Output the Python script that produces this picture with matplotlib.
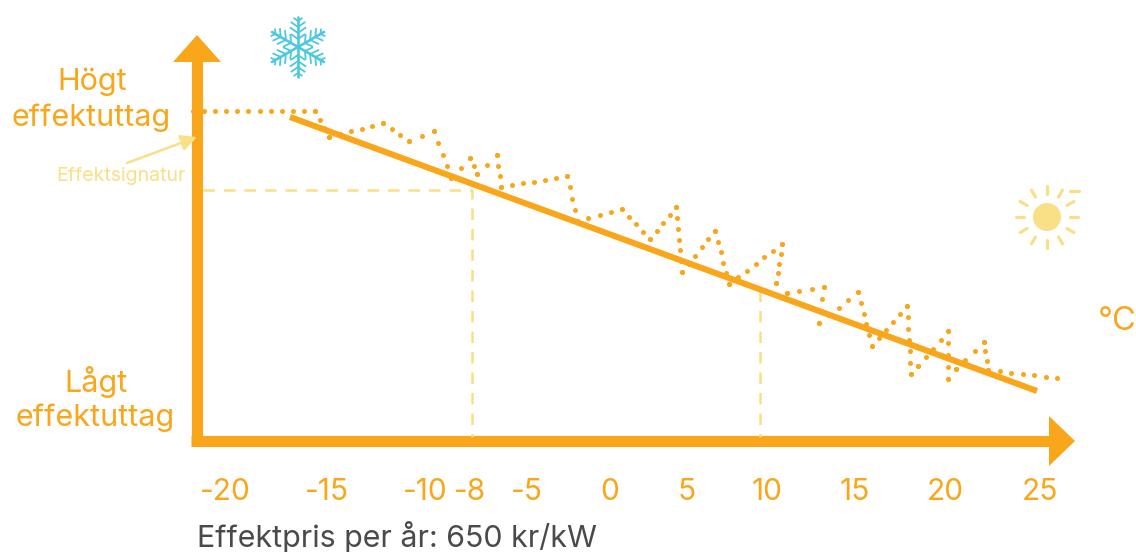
import numpy as np
import matplotlib
matplotlib.use("Agg")
import matplotlib.pyplot as plt
from matplotlib.patches import Polygon, Circle

plt.rcParams['font.family'] = ['Inter', 'DejaVu Sans']

# Chart coordinates (hand-drawn infographic with a non-uniform temperature scale)
tick_labels = ['-20', '-15', '-10', '-8', '-5', '0', '5', '10', '15', '20', '25']
tick_pos = [225, 327, 425, 470, 527, 610, 687, 767, 855, 945, 1040]

sig_x = [193, 315, 329, 340, 383, 409, 434, 451, 470, 477, 497, 501, 567, 577, 622, 650, 676,
         682, 715, 729, 782, 776, 787, 824, 819, 858, 872, 907, 911, 918, 948, 948, 956, 984, 988, 1057]
sig_y = [111, 111, 137, 134, 123, 141, 131, 178, 158, 174, 155, 187, 176, 221, 209, 239, 207,
         272, 231, 284, 244, 283, 293, 287, 323, 292, 346, 306, 374, 366, 331, 379, 369, 342, 370, 378]

trend_x = [290, 1037]
trend_y = [117, 391]

guide_a_x = [203, 472, 472]
guide_a_y = [190, 190, 437]
guide_b_x = [760, 760]
guide_b_y = [290, 437]

ORANGE = '#FAA61A'
PALE = '#F9DF85'
BLUE = '#4DC8E0'
DARK = '#4A4A4A'

fig = plt.figure(figsize=(11.36, 5.52), dpi=100)
ax = fig.add_axes([0, 0, 1, 1])
ax.set_xlim(0, 1136)
ax.set_ylim(552, 0)
ax.axis('off')

# Dotted signature: the dots of each stretch are spaced evenly between its two vertices
PITCH = 11.2
for x0, x1, y0, y1 in zip(sig_x[:-1], sig_x[1:], sig_y[:-1], sig_y[1:]):
    n = max(1, round(np.hypot(x1 - x0, y1 - y0) / PITCH))
    ax.plot(np.linspace(x0, x1, n + 1), np.linspace(y0, y1, n + 1), linestyle='none',
            marker='o', color=ORANGE, ms=3.6, mew=0)

# Axes with arrow heads
ax.plot([197, 197], [60, 446], color=ORANGE, lw=8, solid_capstyle='butt')
ax.plot([191, 1052], [441, 441], color=ORANGE, lw=8, solid_capstyle='butt')
ax.add_patch(Polygon([[173, 62], [197, 35], [221, 62]], closed=True, color=ORANGE, lw=0))
ax.add_patch(Polygon([[1049, 416], [1075, 441], [1049, 466]], closed=True, color=ORANGE, lw=0))

# Guides
ax.plot(guide_a_x, guide_a_y, color=PALE, lw=1.8, linestyle=(0, (4.6, 3.6)))
ax.plot(guide_b_x, guide_b_y, color=PALE, lw=1.8, linestyle=(0, (4.6, 3.6)))

# Trend
ax.plot(trend_x, trend_y, color=ORANGE, lw=4.4, solid_capstyle='butt')

# Effektsignatur annotation
ax.annotate('', xy=(197, 137), xytext=(127, 163),
            arrowprops=dict(arrowstyle='-|>', color=PALE, lw=1.8, mutation_scale=24, shrinkA=0, shrinkB=0))
ax.text(185, 176, 'Effektsignatur', color=PALE, fontsize=14, ha='right', va='center')

# Labels
TXT = dict(color=ORANGE, fontsize=22, ha='center', va='center')
ax.text(92, 82, 'Högt', **TXT)
ax.text(91, 118, 'effektuttag', **TXT)
ax.text(96, 382, 'Lågt', **TXT)
ax.text(95, 418, 'effektuttag', **TXT)
ax.text(1098, 321, '°C', color=ORANGE, fontsize=23.5, ha='left', va='center', clip_on=False)
for p, l in zip(tick_pos, tick_labels):
    ax.text(p, 491.5, l, color=ORANGE, fontsize=21.5, ha='center', va='center')
ax.text(197, 547, 'Effektpris per år: 650 kr/kW', color=DARK, fontsize=21.9, ha='left', va='baseline')

# Sun icon
sx, sy = 1047, 217
ax.add_patch(Circle((sx, sy), 14, color=PALE, lw=0))
for deg in range(0, 360, 30):
    a = np.radians(deg)
    ax.plot([sx + 23 * np.cos(a), sx + 31 * np.cos(a)], [sy + 23 * np.sin(a), sy + 31 * np.sin(a)],
            color=PALE, lw=2.3, solid_capstyle='round')
ax.plot([1070, 1079], [191, 191], color=PALE, lw=2.3, solid_capstyle='round')

# Snowflake icon
fx, fy = 298, 47
for deg in range(30, 390, 60):
    a = np.radians(deg)
    ux, uy = np.cos(a), np.sin(a)
    ax.plot([fx, fx + 30 * ux], [fy, fy + 30 * uy], color=BLUE, lw=1.9, solid_capstyle='round')
    for r, ln in [(8, 8), (14, 9), (20, 8), (26, 4.5)]:
        for s in (-1, 1):
            b = a + s * np.radians(55)
            ax.plot([fx + r * ux, fx + r * ux + ln * np.cos(b)],
                    [fy + r * uy, fy + r * uy + ln * np.sin(b)], color=BLUE, lw=1.3)

fig.savefig('out.png', dpi=100)
